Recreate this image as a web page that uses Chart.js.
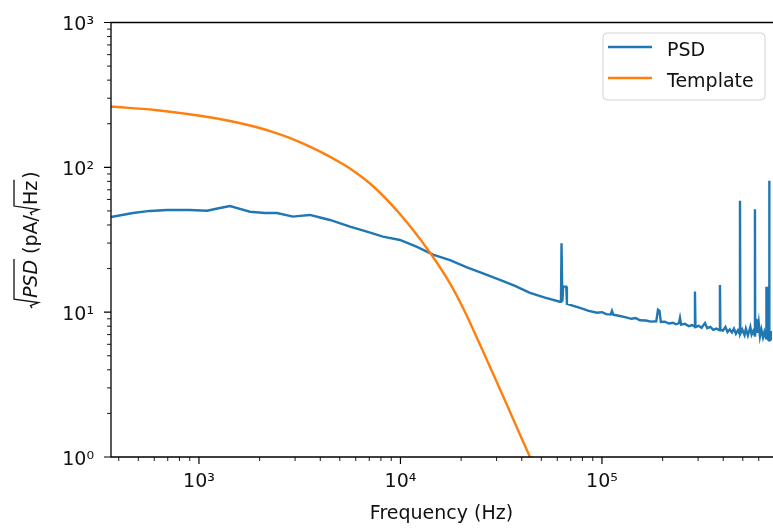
<!DOCTYPE html>
<html><head><meta charset="utf-8">
<script src="https://cdn.jsdelivr.net/npm/chart.js@4"></script>
<style>html,body{margin:0;padding:0;background:#fff;overflow:hidden}</style>
</head><body>
<canvas id="c" width="773" height="529"></canvas>
<script>
// ---- data ----
const seriesNames = ['PSD', 'Template'];
const psdFreq = [366, 470, 571, 694, 902, 1096, 1271, 1425, 1598, 1791, 2126, 2438, 2928, 3171, 3555, 4078, 4467, 5616, 6818, 8188, 9944, 12080, 14500, 17610, 21380, 25670, 31170, 37010, 43930, 52140, 61880, 62600, 63000, 63600, 64200, 66500, 67000, 77800, 86000, 94450, 100000, 105000, 110500, 112100, 113800, 121000, 130100, 140000, 147000, 154400, 165000, 175000, 186000, 189700, 193000, 196000, 205000, 215000, 225100, 233000, 241000, 243900, 247000, 258000, 270000, 280000, 288000, 289400, 291000, 302000, 312000, 324600, 333000, 345000, 357000, 370000, 384000, 385100, 387000, 398000, 410000, 420000, 431000, 441800, 452000, 462000, 473000, 483000, 484100, 486000, 497000, 510000, 518000, 530000, 545000, 553000, 563000, 573500, 574500, 576000, 585000, 592000, 600000, 608300, 618000, 630000, 640000, 652000, 655000, 665000, 668000, 672000, 675000, 676400, 678000, 685000, 690000, 698000, 710000];
const psdValue = [45.4, 48.4, 50.0, 50.8, 50.8, 50.2, 52.4, 54.1, 51.6, 49.4, 48.4, 48.4, 45.7, 46.2, 46.9, 44.7, 43.3, 38.9, 36.0, 33.2, 31.5, 28.2, 25.0, 22.9, 20.4, 18.5, 16.7, 15.2, 13.6, 12.6, 11.8, 11.8, 29.9, 11.8, 15.0, 15.0, 11.4, 10.7, 10.2, 9.92, 10.0, 9.70, 9.64, 10.2, 9.6, 9.45, 9.25, 9.0, 9.1, 8.8, 8.75, 8.6, 8.65, 10.4, 10.2, 8.55, 8.6, 8.35, 8.45, 8.25, 8.4, 9.12, 8.2, 8.3, 8.0, 8.15, 7.95, 13.9, 7.9, 8.05, 7.8, 8.4, 7.75, 7.9, 7.55, 7.7, 7.5, 15.4, 7.6, 7.45, 7.9, 7.3, 7.6, 7.25, 7.7, 7.1, 7.5, 7.05, 58.9, 7.1, 7.6, 6.95, 7.7, 6.9, 7.9, 7.0, 7.4, 6.9, 51.4, 7.0, 9.0, 7.2, 8.4, 6.8, 7.6, 6.7, 7.3, 6.6, 14.7, 14.7, 6.5, 7.0, 6.4, 80.9, 6.4, 7.4, 6.5, 6.6, 6.4];
const templateFreq = [366, 605, 1012, 1426, 1897, 2296, 2773, 3357, 4064, 4909, 5616, 7059, 8868, 11145, 14285, 17610, 20510, 24800, 30020, 36280, 43930, 50120];
const templateValue = [263, 248.9, 227.0, 208.9, 190.6, 176.6, 161.1, 144.2, 126.8, 109.9, 98.2, 77.3, 56.8, 39.3, 24.8, 15.8, 10.6, 5.98, 3.31, 1.82, 1.0, 0.66];
const xTickValues = [1e3, 1e4, 1e5];
const xTickLabels = ['10³', '10⁴', '10⁵'];
const yTickValues = [1, 10, 100, 1000];
const yTickLabels = ['10⁰', '10¹', '10²', '10³'];
const xTitle = 'Frequency (Hz)';
const xRange = [366, 698000];
const yRange = [1, 1000];

const FONT = '"DejaVu Sans", "Liberation Sans", sans-serif';
const TXT = '#111';

function minorValues(min, max) {
  const out = [];
  for (let d = Math.floor(Math.log10(min)); d <= Math.ceil(Math.log10(max)); d++) {
    for (let k = 2; k <= 9; k++) {
      const v = k * Math.pow(10, d);
      if (v >= min && v <= max) out.push(v);
    }
  }
  return out;
}

const axesDecor = {
  id: 'axesDecor',
  afterDatasetsDraw(chart) {
    const {ctx, chartArea: {left, right, top, bottom}, scales: {x, y}} = chart;
    ctx.save();
    ctx.strokeStyle = '#000';
    ctx.lineCap = 'butt';
    ctx.lineWidth = 1.3;
    ctx.beginPath();
    ctx.moveTo(right + 2, top); ctx.lineTo(left, top);
    ctx.lineTo(left, bottom); ctx.lineTo(right + 2, bottom);
    ctx.stroke();
    ctx.lineWidth = 1.2;
    ctx.beginPath();
    yTickValues.forEach(v => { const p = y.getPixelForValue(v); ctx.moveTo(left, p); ctx.lineTo(left - 7, p); });
    xTickValues.forEach(v => { const p = x.getPixelForValue(v); ctx.moveTo(p, bottom); ctx.lineTo(p, bottom + 7); });
    ctx.stroke();
    ctx.lineWidth = 0.9;
    ctx.beginPath();
    minorValues(yRange[0], yRange[1]).forEach(v => { const p = y.getPixelForValue(v); ctx.moveTo(left, p); ctx.lineTo(left - 4, p); });
    minorValues(xRange[0], xRange[1]).forEach(v => { const p = x.getPixelForValue(v); ctx.moveTo(p, bottom); ctx.lineTo(p, bottom + 4); });
    ctx.stroke();
    ctx.restore();
  },
  afterDraw(chart) {
    const {ctx, chartArea: {left, right, top, bottom}} = chart;
    // ---- legend ----
    ctx.save();
    const bx = right - 169, by = top + 10.5, bw = 162, bh = 67;
    ctx.beginPath();
    ctx.roundRect(bx, by, bw, bh, 4);
    ctx.fillStyle = 'rgba(255,255,255,0.85)';
    ctx.fill();
    ctx.strokeStyle = '#d3d3d3';
    ctx.lineWidth = 1;
    ctx.stroke();
    ctx.font = '19px ' + FONT;
    ctx.textBaseline = 'alphabetic';
    ctx.textAlign = 'left';
    chart.data.datasets.forEach((ds, i) => {
      const ly = by + 14 + i * 31;
      ctx.strokeStyle = ds.borderColor;
      ctx.lineWidth = 2.5;
      ctx.beginPath(); ctx.moveTo(bx + 5, ly); ctx.lineTo(bx + 49, ly); ctx.stroke();
      ctx.fillStyle = TXT;
      ctx.fillText(ds.label, bx + 64, ly + 9);
    });
    ctx.restore();

    // ---- y axis title: sqrt(PSD) (pA/sqrt(Hz)) ----
    ctx.save();
    const cy = (top + bottom) / 2;
    ctx.translate(37, cy);
    ctx.rotate(-Math.PI / 2);
    const fN = '19px ' + FONT, fI = 'italic 19px ' + FONT;
    ctx.font = fI; const wPSD = ctx.measureText('PSD').width;
    ctx.font = fN; const wMid = ctx.measureText(' (pA/').width;
    const wHz = ctx.measureText('Hz').width, wPar = ctx.measureText(')').width;
    const rad = 10;
    const total = rad + wPSD + wMid + rad + wHz + wPar + 2;
    let x0 = -total / 2;
    ctx.fillStyle = TXT; ctx.strokeStyle = TXT;
    ctx.textBaseline = 'alphabetic'; ctx.textAlign = 'left';
    function radical(xs, wEnd) {
      ctx.lineWidth = 1.3;
      ctx.beginPath();
      ctx.moveTo(xs, -5); ctx.lineTo(xs + 2.5, -6.5);
      ctx.lineTo(xs + 5.5, 1.5); ctx.lineTo(xs + 9, -23);
      ctx.lineTo(xs + rad + wEnd + 1, -23);
      ctx.stroke();
    }
    radical(x0, wPSD);
    ctx.font = fI; ctx.fillText('PSD', x0 + rad, 0);
    x0 += rad + wPSD;
    ctx.font = fN; ctx.fillText(' (pA/', x0, 0);
    x0 += wMid;
    radical(x0, wHz);
    ctx.fillText('Hz', x0 + rad, 0);
    x0 += rad + wHz + 2;
    ctx.fillText(')', x0, 0);
    ctx.restore();
  }
};

new Chart(document.getElementById('c'), {
  type: 'line',
  data: {
    datasets: [
      {
        label: seriesNames[0],
        data: psdFreq.map((f, i) => ({x: f, y: psdValue[i]})),
        borderColor: '#1f77b4', borderWidth: 2.4, pointRadius: 0, tension: 0, fill: false, clip: 0, order: 1
      },
      {
        label: seriesNames[1],
        data: templateFreq.map((f, i) => ({x: f, y: templateValue[i]})),
        borderColor: '#ff7f0e', borderWidth: 2.4, pointRadius: 0, cubicInterpolationMode: 'monotone', fill: false, clip: 0, order: 0
      }
    ]
  },
  options: {
    responsive: false,
    animation: false,
    devicePixelRatio: 1,
    layout: {padding: {top: 22.5, right: 1, left: 0, bottom: 0}},
    plugins: {legend: {display: false}, tooltip: {enabled: false}},
    scales: {
      x: {
        type: 'logarithmic', position: 'bottom', min: xRange[0], max: xRange[1], bounds: 'data',
        grid: {display: false, drawTicks: false}, border: {display: false},
        ticks: {autoSkip: false, maxRotation: 0, padding: 14, color: TXT, font: {family: FONT, size: 19},
          callback: (v) => { const i = xTickValues.indexOf(v); return i >= 0 ? xTickLabels[i] : ''; }},
        title: {display: true, text: xTitle, color: TXT, font: {family: FONT, size: 19}, padding: {top: 0, bottom: 4}},
        afterBuildTicks: (s) => { s.ticks = xTickValues.map(v => ({value: v})); },
        afterFit: (s) => { s.height = 72; s.paddingLeft = 0; s.paddingRight = 0; s.paddingTop = 0; s.paddingBottom = 0; }
      },
      y: {
        type: 'logarithmic', position: 'left', min: yRange[0], max: yRange[1], bounds: 'data',
        grid: {display: false, drawTicks: false}, border: {display: false},
        ticks: {autoSkip: false, padding: 17, labelOffset: 3, color: TXT, font: {family: FONT, size: 19},
          callback: (v) => { const i = yTickValues.indexOf(v); return i >= 0 ? yTickLabels[i] : ''; }},
        afterBuildTicks: (s) => { s.ticks = yTickValues.map(v => ({value: v})); },
        afterFit: (s) => { s.width = 111; s.paddingTop = 0; s.paddingBottom = 0; s.paddingLeft = 0; s.paddingRight = 0; }
      }
    }
  },
  plugins: [axesDecor]
});
</script>
</body></html>
